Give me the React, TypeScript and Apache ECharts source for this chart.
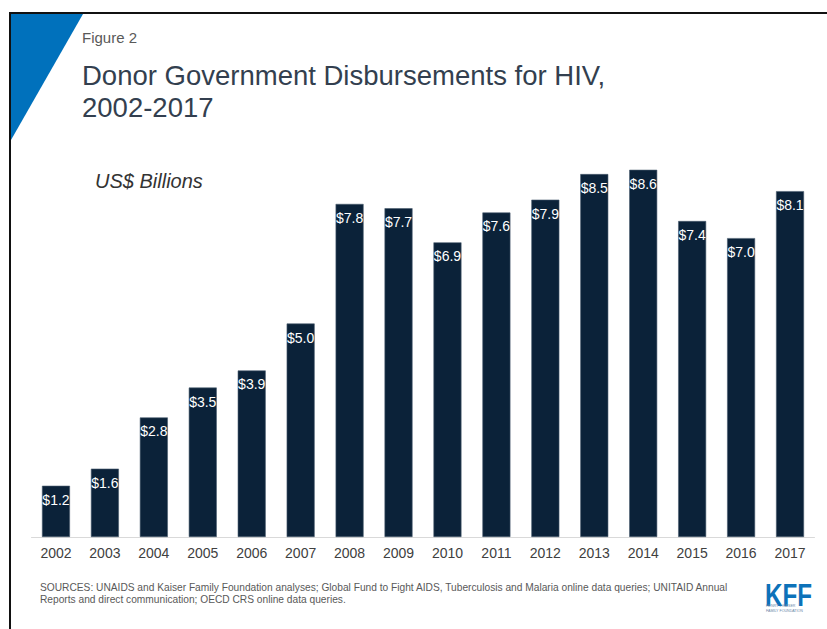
import React, { useEffect, useRef } from "react";
import * as echarts from "echarts";

const years = ["2002", "2003", "2004", "2005", "2006", "2007", "2008", "2009", "2010", "2011", "2012", "2013", "2014", "2015", "2016", "2017"];
const disbursements = [1.2, 1.6, 2.8, 3.5, 3.9, 5.0, 7.8, 7.7, 6.9, 7.6, 7.9, 8.5, 8.6, 7.4, 7.0, 8.1];

const figureLabel = "Figure 2";
const titleLines = ["Donor Government Disbursements for HIV,", "2002-2017"];
const unitLabel = "US$ Billions";
const sourceLines = [
  "SOURCES: UNAIDS and Kaiser Family Foundation analyses; Global Fund to Fight AIDS, Tuberculosis and Malaria online data queries; UNITAID Annual",
  "Reports and direct communication; OECD CRS online data queries.",
];
const logoText = "KFF";
const logoSub = "HENRY J KAISER\nFAMILY FOUNDATION";

const FONT = "'Liberation Sans', Arial, Helvetica, sans-serif";

export default function App() {
  const ref = useRef<HTMLDivElement>(null);
  useEffect(() => {
    if (!ref.current) return;
    const chart = echarts.init(ref.current, undefined, { renderer: "svg" });
    chart.setOption({
      animation: false,
      backgroundColor: "#ffffff",
      textStyle: { fontFamily: FONT },
      grid: { left: 31.5, right: 12.5, top: 110, bottom: 92, containLabel: false },
      xAxis: {
        type: "category",
        data: years,
        axisLine: { show: true, lineStyle: { color: "#d9d9d9", width: 1 } },
        axisTick: { show: false },
        axisLabel: { color: "#404040", fontSize: 14, fontFamily: FONT, margin: 9 },
      },
      yAxis: {
        type: "value",
        min: 0,
        max: 10,
        show: false,
        splitLine: { show: false },
      },
      series: [
        {
          type: "bar",
          data: disbursements,
          barWidth: 28,
          itemStyle: { color: "#0b2239", borderColor: "#4a5c6e", borderWidth: 0.6 },
          label: {
            show: true,
            position: "insideTop",
            distance: 7,
            color: "#ffffff",
            fontSize: 14,
            fontFamily: FONT,
            formatter: (p: any) => "$" + Number(p.value).toFixed(1),
          },
        },
      ],
      graphic: [
        {
          type: "polygon",
          shape: { points: [[11, 14], [83, 14], [11, 140]] },
          style: { fill: "#0071bc" },
          silent: true,
        },
        {
          type: "polyline",
          shape: { points: [[10, 629], [10, 13], [827, 13]] },
          style: { stroke: "#111111", lineWidth: 2, fill: "none" },
          silent: true,
        },
        {
          type: "text",
          x: 82,
          y: 30,
          style: { text: figureLabel, fill: "#595959", font: `15px ${FONT}` },
        },
        {
          type: "text",
          x: 82,
          y: 61,
          style: { text: titleLines[0], fill: "#333f4f", font: `27.5px ${FONT}` },
        },
        {
          type: "text",
          x: 82,
          y: 93,
          style: { text: titleLines[1], fill: "#333f4f", font: `27.5px ${FONT}` },
        },
        {
          type: "text",
          x: 95,
          y: 171,
          style: { text: unitLabel, fill: "#333333", font: `italic 20px ${FONT}` },
        },
        {
          type: "text",
          x: 40,
          y: 582,
          style: { text: sourceLines[0], fill: "#595959", font: `10.2px ${FONT}` },
        },
        {
          type: "text",
          x: 40,
          y: 594,
          style: { text: sourceLines[1], fill: "#595959", font: `10.2px ${FONT}` },
        },
        {
          type: "text",
          x: 765,
          y: 580,
          scaleX: 0.78,
          style: { text: logoText, fill: "#0d72b9", font: `bold 31px ${FONT}` },
        },
        {
          type: "text",
          x: 766,
          y: 603,
          style: { text: logoSub, fill: "#6a86a8", font: `3.6px ${FONT}`, lineHeight: 5 },
        },
      ],
    });
    return () => chart.dispose();
  }, []);
  return (
    <div
      ref={ref}
      style={{ position: "fixed", left: 0, top: 0, width: 827, height: 629 }}
    />
  );
}
